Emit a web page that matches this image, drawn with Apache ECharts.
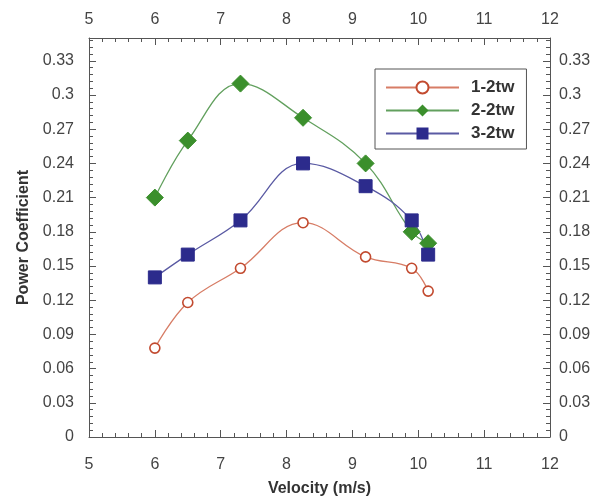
<!DOCTYPE html>
<html>
<head>
<meta charset="utf-8">
<script src="https://cdn.jsdelivr.net/npm/echarts@6/dist/echarts.min.js"></script>
<style>
html,body{margin:0;padding:0;background:#fff;}
#chart{width:611px;height:502px;}
</style>
</head>
<body>
<div id="chart"></div>
<script>
// Data
var velocity = [6, 6.5, 7.3, 8.25, 9.2, 9.9, 10.15];
var tw1 = [0.078, 0.118, 0.148, 0.188, 0.158, 0.148, 0.128];
var tw2 = [0.21, 0.26, 0.31, 0.28, 0.24, 0.18, 0.17];
var tw3 = [0.14, 0.16, 0.19, 0.24, 0.22, 0.19, 0.16];
var seriesNames = ['1-2tw', '2-2tw', '3-2tw'];

function pairs(ys) { return velocity.map(function (x, i) { return [x, ys[i]]; }); }

var FONT = 'Liberation Sans, Arial, Helvetica, sans-serif';
var axisColor = '#555';
function labelStyle(margin) {
  return { color: '#444', fontSize: 16, fontFamily: FONT, margin: margin, showMaxLabel: false };
}
var titleStyle = { color: '#333', fontSize: 16, fontWeight: 'bold', fontFamily: FONT };

function xAx(pos) {
  return {
    type: 'value', position: pos, min: 5, max: 12, interval: 1,
    name: pos === 'bottom' ? 'Velocity (m/s)' : '',
    nameLocation: 'middle', nameGap: 44,
    nameTextStyle: titleStyle,
    axisLine: { show: true, onZero: false, lineStyle: { color: axisColor, width: 1 } },
    axisTick: { show: true, inside: true, length: 7, lineStyle: { color: axisColor } },
    minorTick: { show: true, splitNumber: 5, length: 4, lineStyle: { color: axisColor } },
    axisLabel: Object.assign(labelStyle(pos === 'bottom' ? 20 : 10), { showMaxLabel: true }),
    splitLine: { show: false }
  };
}
function yAx(pos) {
  return {
    type: 'value', position: pos, min: 0, max: 0.35, interval: 0.03,
    name: pos === 'left' ? 'Power Coefficient' : '',
    nameLocation: 'middle', nameGap: 57, nameRotate: 90,
    nameTextStyle: titleStyle,
    axisLine: { show: true, onZero: false, lineStyle: { color: axisColor, width: 1 } },
    axisTick: { show: true, inside: true, length: 7, lineStyle: { color: axisColor } },
    minorTick: { show: true, splitNumber: 5, length: 4, lineStyle: { color: axisColor } },
    axisLabel: labelStyle(pos === 'left' ? 15 : 9),
    splitLine: { show: false }
  };
}

var chart = echarts.init(document.getElementById('chart'));
chart.setOption({
  backgroundColor: '#fff',
  animation: false,
  grid: { left: 89, right: 61, top: 38, bottom: 62 },
  xAxis: [xAx('bottom'), xAx('top')],
  yAxis: [yAx('left'), yAx('right')],
  legend: {
    orient: 'vertical', left: 375, top: 69,
    borderColor: '#555', borderWidth: 1,
    padding: [10, 12, 7, 10], itemGap: 6,
    itemWidth: 73, itemHeight: 15,
    textStyle: { color: '#333', fontSize: 17, fontWeight: 'bold', fontFamily: FONT, padding: [0, 0, 0, 7] },
    data: seriesNames
  },
  series: [
    {
      name: seriesNames[0], type: 'line', smooth: 0.4, data: pairs(tw1),
      symbol: 'circle', symbolSize: 10,
      lineStyle: { color: '#d77d66', width: 1.3 },
      itemStyle: { color: '#fff', borderColor: '#c24a2f', borderWidth: 1.6 }
    },
    {
      name: seriesNames[1], type: 'line', smooth: 0.4, data: pairs(tw2),
      symbol: 'diamond', symbolSize: 17,
      lineStyle: { color: '#62a05e', width: 1.3 },
      itemStyle: { color: '#3b8f2c', borderColor: '#3b8f2c' }
    },
    {
      name: seriesNames[2], type: 'line', smooth: 0.4, data: pairs(tw3),
      symbol: 'rect', symbolSize: 13,
      lineStyle: { color: '#5a5aa3', width: 1.3 },
      itemStyle: { color: '#2c2b8c', borderColor: '#2c2b8c' }
    }
  ]
});
</script>
</body>
</html>
